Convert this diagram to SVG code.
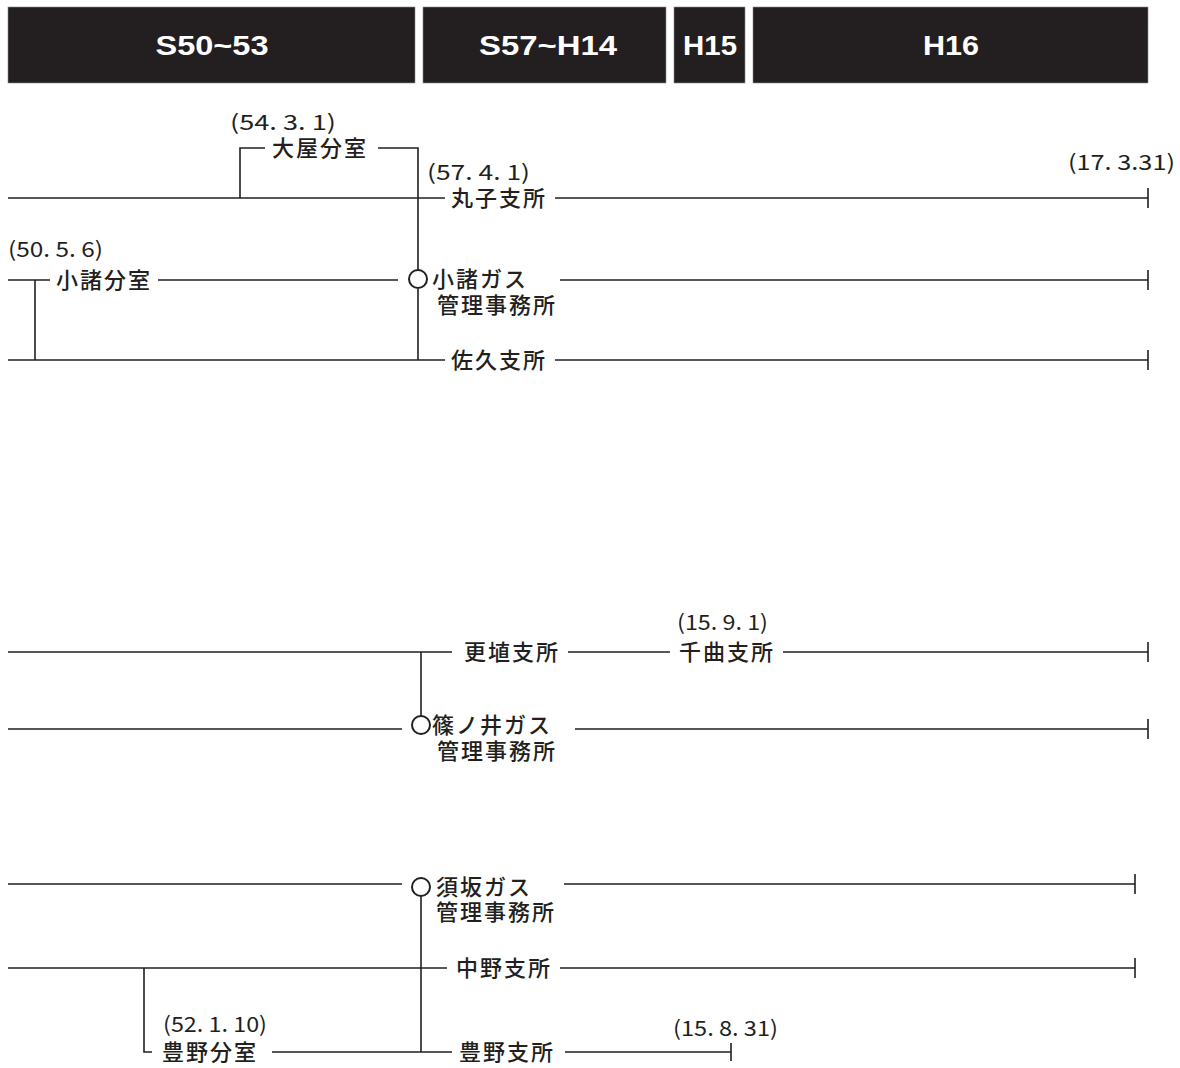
<svg xmlns="http://www.w3.org/2000/svg" width="1180" height="1068" viewBox="0 0 1180 1068">
<style>
.hdr{fill:#231f20;stroke:#8a8a8a;stroke-width:0.6}
.ht{font-family:"Liberation Sans",Arial,sans-serif;font-weight:bold;font-size:27px;fill:#ffffff;text-anchor:middle}
.jp{font-family:"Noto Sans CJK JP","Noto Sans CJK SC",sans-serif;font-size:22px;font-weight:500;fill:#231f20;letter-spacing:2px}
.dt{font-family:"Noto Sans CJK JP","Noto Sans CJK SC",sans-serif;font-size:21px;fill:#231f20}
.ln{fill:none;stroke:#231f20;stroke-width:1.6}
.ci{fill:#ffffff;stroke:#231f20;stroke-width:2}
</style>
<rect width="1180" height="1068" fill="#ffffff"/>
<g id="header">
<g id="h-s50"><rect class="hdr" x="8" y="7" width="407" height="76"/><text class="ht" x="212" y="55" textLength="113" lengthAdjust="spacingAndGlyphs">S50~53</text></g>
<g id="h-s57"><rect class="hdr" x="423" y="7" width="243" height="76"/><text class="ht" x="548" y="55" textLength="138" lengthAdjust="spacingAndGlyphs">S57~H14</text></g>
<g id="h-h15"><rect class="hdr" x="674" y="7" width="71" height="76"/><text class="ht" x="710" y="55" textLength="54" lengthAdjust="spacingAndGlyphs">H15</text></g>
<g id="h-h16"><rect class="hdr" x="753" y="7" width="395" height="76"/><text class="ht" x="951" y="55" textLength="56" lengthAdjust="spacingAndGlyphs">H16</text></g>
</g>
<g id="connectors" class="ln">
<path d="M8 198H445M555 198H1148M1148 188V208"/>
<path d="M240 198V148H265M378 148H418V270"/>
<path d="M8 280H50M158 280H398M560 280H1148M1148 270V290"/>
<path d="M35 280V360"/>
<path d="M418 289V360"/>
<path d="M8 360H445M555 360H1148M1148 350V370"/>
<path d="M8 652H452M568 652H670M783 652H1148M1148 642V662"/>
<path d="M421 652V716"/>
<path d="M8 729H402M575 729H1148M1148 719V739"/>
<path d="M8 884H402M564 884H1135M1135 874V894"/>
<path d="M421 896V1052"/>
<path d="M8 968H447M560 968H1135M1135 958V978"/>
<path d="M144 968V1052H152M272 1052H452M565 1052H731M731 1043V1061"/>
</g>
<g id="n-oya"><text class="dt" x="230" y="130" textLength="106" lengthAdjust="spacingAndGlyphs">(54. 3. 1)</text><text class="jp" x="272" y="156">大屋分室</text></g>
<g id="n-maruko"><text class="dt" x="427" y="180" textLength="103" lengthAdjust="spacingAndGlyphs">(57. 4. 1)</text><text class="jp" x="451" y="206">丸子支所</text></g>
<g id="n-end1"><text class="dt" x="1068" y="170" textLength="107" lengthAdjust="spacingAndGlyphs">(17. 3.31)</text></g>
<g id="n-komoro-bunshitsu"><text class="dt" x="8" y="257" textLength="95" lengthAdjust="spacingAndGlyphs">(50. 5. 6)</text><text class="jp" x="56" y="288">小諸分室</text></g>
<g id="n-komoro-gas"><circle class="ci" cx="418" cy="279" r="9"/><text class="jp"><tspan x="432" y="287">小諸ガス</tspan><tspan x="437" y="313">管理事務所</tspan></text></g>
<g id="n-saku"><text class="jp" x="451" y="368">佐久支所</text></g>
<g id="n-koshoku"><text class="jp" x="464" y="660">更埴支所</text></g>
<g id="n-chikuma"><text class="dt" x="677" y="630" textLength="91" lengthAdjust="spacingAndGlyphs">(15. 9. 1)</text><text class="jp" x="679" y="660">千曲支所</text></g>
<g id="n-shinonoi"><circle class="ci" cx="421" cy="725" r="9"/><text class="jp"><tspan x="432" y="733">篠ノ井ガス</tspan><tspan x="437" y="759">管理事務所</tspan></text></g>
<g id="n-suzaka"><circle class="ci" cx="421" cy="887" r="9"/><text class="jp"><tspan x="436" y="895">須坂ガス</tspan><tspan x="436" y="920">管理事務所</tspan></text></g>
<g id="n-nakano"><text class="jp" x="456" y="976">中野支所</text></g>
<g id="n-toyono-bunshitsu"><text class="dt" x="163" y="1032" textLength="104" lengthAdjust="spacingAndGlyphs">(52. 1. 10)</text><text class="jp" x="162" y="1060">豊野分室</text></g>
<g id="n-toyono"><text class="jp" x="459" y="1060">豊野支所</text><text class="dt" x="673" y="1036" textLength="105" lengthAdjust="spacingAndGlyphs">(15. 8. 31)</text></g>
</svg>
